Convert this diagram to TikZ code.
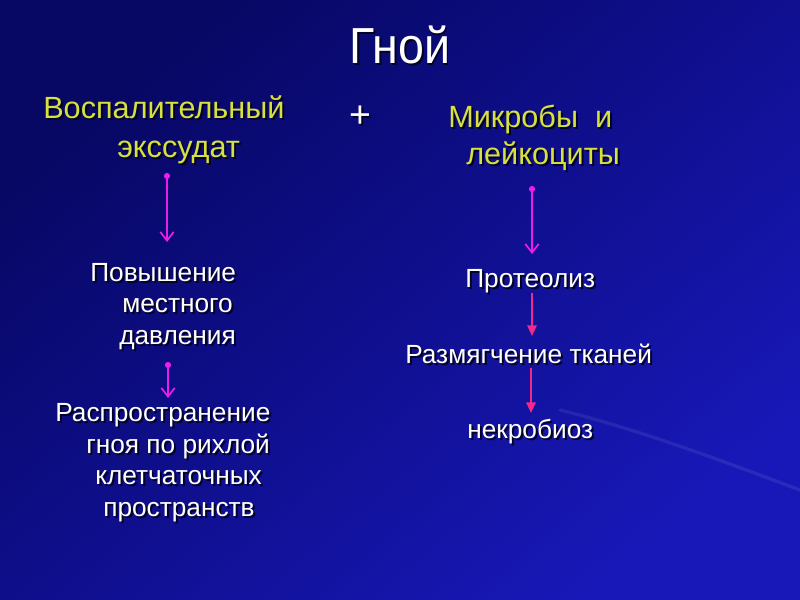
\documentclass[tikz,border=0pt]{standalone}
\usepackage{fontspec}
\setmainfont{Liberation Sans}
\usetikzlibrary{arrows.meta}
\definecolor{ylw}{RGB}{214,224,62}
\definecolor{mag}{RGB}{236,28,236}
\definecolor{pnk}{RGB}{242,40,140}
\definecolor{bgdark}{RGB}{7,7,100}
\definecolor{bgmid}{RGB}{15,15,142}
\definecolor{bglight}{RGB}{24,24,184}
\definecolor{shadowc}{RGB}{3,3,35}
\newcommand\shadtext[1]{\makebox[0pt][l]{\hspace{1.5pt}\raisebox{-1.5pt}{\color{shadowc}#1}}#1}
\tikzset{
  txt/.style={anchor=base west, inner sep=0pt, text=white, font=\fontsize{19.7pt}{23pt}\selectfont},
  ytxt/.style={txt, text=ylw, font=\fontsize{23pt}{27pt}\selectfont},
  ttl/.style={anchor=base, inner sep=0pt, text=white, font=\fontsize{38pt}{44pt}\selectfont},
  magarrow/.style={draw=mag, line width=1.5pt,
    {Circle[length=4.5pt]}-{Straight Barb[length=6.5pt,width=10pt,line width=1.3pt]}},
  pnkarrow/.style={draw=pnk, line width=1.5pt, -{Triangle[length=8pt,width=7pt]}},
  streak/.style={draw=white, line width=2.5pt, opacity=0.08, line cap=round}
}
\begin{document}
\begin{tikzpicture}[x=0.75pt, y=-0.75pt]
\useasboundingbox (0,0) rectangle (800,600);
% background
\shade[top color=bgdark, bottom color=bglight, middle color=bgmid, shading angle=40]
  (0,0) rectangle (800,600);
\draw[streak] (560,410) .. controls (640,430) and (720,460) .. (800,490);

% title and headings
\node[ttl] (title) at (400,63) {\scalebox{0.92}[1]{\shadtext{Гной}}};
\node[anchor=center, inner sep=0pt, text=white, font=\fontsize{28pt}{32pt}\selectfont] (plus) at (360,118) {\shadtext{+}};
\node[ytxt] (v1) at (43,118) {\shadtext{Воспалительный}};
\node[ytxt] (v2) at (117,157) {\shadtext{экссудат}};
\node[ytxt] (m1) at (448,127) {\shadtext{Микробы\ \ и}};
\node[ytxt] (m2) at (466,164) {\shadtext{лейкоциты}};

% left column
\node[txt] (p1) at (90,281) {\shadtext{Повышение}};
\node[txt] (p2) at (122,312.5) {\shadtext{местного}};
\node[txt] (p3) at (119,344) {\shadtext{давления}};
\node[txt] (r1) at (55,421.5) {\shadtext{Распространение}};
\node[txt] (r2) at (86,453) {\shadtext{гноя по рихлой}};
\node[txt] (r3) at (95,484.5) {\shadtext{клетчаточных}};
\node[txt] (r4) at (103,516) {\shadtext{пространств}};

% right column
\node[txt] (pr) at (465,287) {\shadtext{Протеолиз}};
\node[txt] (rz) at (405,363) {\shadtext{Размягчение тканей}};
\node[txt] (nk) at (467,438) {\shadtext{некробиоз}};

% arrow end points
\coordinate (a1s) at (167,173);
\coordinate (a1e) at (167,242);
\coordinate (a2s) at (168,362);
\coordinate (a2e) at (168,398);
\coordinate (b1s) at (532,186);
\coordinate (b1e) at (532,254);
\coordinate (b2s) at (532,293);
\coordinate (b2e) at (532,336);
\coordinate (b3s) at (531,368);
\coordinate (b3e) at (531,413);

\draw[magarrow] (a1s) -- (a1e);
\draw[magarrow] (a2s) -- (a2e);
\draw[magarrow] (b1s) -- (b1e);
\draw[pnkarrow] (b2s) -- (b2e);
\draw[pnkarrow] (b3s) -- (b3e);
\end{tikzpicture}
\end{document}
